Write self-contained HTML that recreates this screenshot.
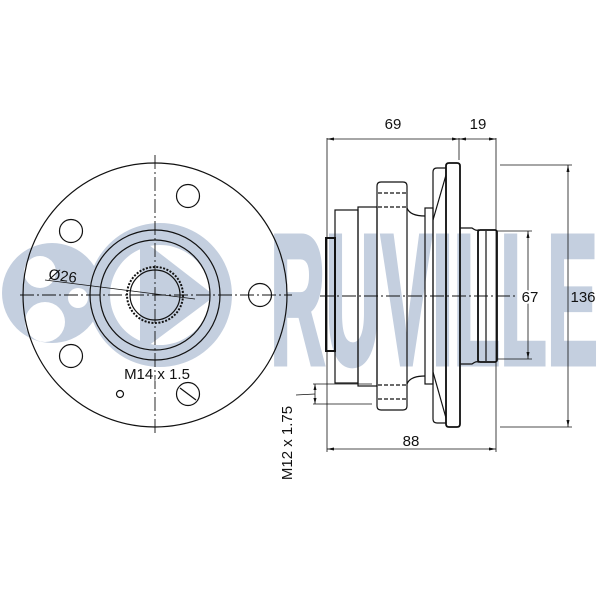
<!DOCTYPE html>
<html><head><meta charset="utf-8"><style>
html,body{margin:0;padding:0;background:#fff}
svg{display:block}
text{font-family:"Liberation Sans",sans-serif;fill:#111}
</style></head><body>
<svg width="600" height="600" viewBox="0 0 600 600" xmlns="http://www.w3.org/2000/svg">
<!-- watermark -->
<g fill="#c4cfdf">
  <circle cx="52" cy="293" r="50"/>
  <path d="M160 223 a72 72 0 1 1 -0.1 0 Z M160 245 a50 50 0 1 0 0.1 0 Z" fill-rule="evenodd"/>
  <polygon points="140,238 215,296 140,352"/>
  <text x="270" y="364" font-size="186" font-weight="bold" textLength="328" lengthAdjust="spacingAndGlyphs" style="fill:#c4cfdf;stroke:#c4cfdf;stroke-width:5">RUVILLE</text>
</g>
<g fill="#fff">
  <circle cx="40" cy="272" r="16"/>
  <circle cx="45" cy="322" r="20"/>
  <circle cx="78" cy="298" r="10"/>
</g>
<g fill="none" stroke="#111" stroke-width="1.2">
  <circle cx="155" cy="295" r="132"/>
  <circle cx="155" cy="295" r="65"/>
  <circle cx="155" cy="295" r="55"/>
  <circle cx="155" cy="295" r="28" stroke-dasharray="2 1.5" stroke-width="2"/>
  <circle cx="155" cy="295" r="25"/>
  <circle cx="188" cy="196" r="11.5"/>
  <circle cx="71" cy="231" r="11.5"/>
  <circle cx="260" cy="295" r="11.5"/>
  <circle cx="71" cy="356" r="11.5"/>
  <circle cx="188" cy="394" r="11.5"/>
  <line x1="180" y1="388" x2="196" y2="400"/>
  <circle cx="120" cy="394" r="3.5"/>
  <line x1="45" y1="280" x2="195" y2="299" stroke-width="0.8"/>
  <line x1="155" y1="155" x2="155" y2="436" stroke-dasharray="14 3 2 3" stroke-width="0.9"/>
  <line x1="20" y1="295" x2="292" y2="295" stroke-dasharray="14 3 2 3" stroke-width="0.9"/>
  <line x1="320" y1="296" x2="515" y2="296" stroke-dasharray="14 3 2 3" stroke-width="0.9"/>

  <rect x="326" y="238" width="9" height="113" stroke-width="2"/>
  <rect x="335" y="210" width="23" height="173"/>
  <rect x="358" y="207" width="19" height="179"/>
  <path d="M377 186 q0 -4 4 -4 h22 q4 0 4 4 v220 q0 4 -4 4 h-22 q-4 0 -4 -4 Z"/>
  <line x1="378" y1="193" x2="406" y2="193" stroke-dasharray="4 2"/>
  <line x1="378" y1="207" x2="406" y2="207" stroke-dasharray="4 2"/>
  <line x1="378" y1="385" x2="406" y2="385" stroke-dasharray="4 2"/>
  <line x1="378" y1="399" x2="406" y2="399" stroke-dasharray="4 2"/>
  <path d="M407 208 q3 8 18 8 M407 384 q3 -8 18 -8"/>
  <rect x="425" y="208" width="8" height="176"/>
  <path d="M433 172 q0 -4 4 -4 h9 v255 h-9 q-4 0 -4 -4 Z"/>
  <line x1="433" y1="220" x2="446" y2="175"/>
  <line x1="433" y1="372" x2="446" y2="418"/>
  <path d="M446 166 q0 -3 3 -3 h8 q3 0 3 3 v258 q0 3 -3 3 h-8 q-3 0 -3 -3 Z" stroke-width="1.8"/>
  <path d="M460 228 h12 q4 3 6 2 v132 q-2 -1 -6 2 h-12"/>
  <rect x="478" y="230" width="19" height="132" rx="2" stroke-width="1.8"/>
  <line x1="486" y1="231" x2="486" y2="361"/>
</g>
<g stroke="#111" stroke-width="0.8" fill="none">
  <line x1="327" y1="138" x2="327" y2="452"/>
  <line x1="496" y1="138" x2="496" y2="452"/>
  <line x1="459" y1="138" x2="459" y2="160"/>
  <line x1="327" y1="139" x2="496" y2="139"/>
  <line x1="327" y1="449" x2="496" y2="449"/>
  <line x1="500" y1="165" x2="572" y2="165"/>
  <line x1="500" y1="427" x2="572" y2="427"/>
  <line x1="568" y1="165" x2="568" y2="427"/>
  <line x1="497" y1="231" x2="532" y2="231"/>
  <line x1="497" y1="359" x2="532" y2="359"/>
  <line x1="528" y1="231" x2="528" y2="359"/>
  <line x1="313" y1="384" x2="372" y2="384"/>
  <line x1="313" y1="404" x2="372" y2="404"/>
  <line x1="315" y1="384" x2="315" y2="404"/>
  <line x1="296" y1="395" x2="315" y2="394"/>
</g>
<g fill="#111">
  <polygon points="327,139 334,137.5 334,140.5"/>
  <polygon points="459,139 452,137.5 452,140.5"/>
  <polygon points="459,139 466,137.5 466,140.5"/>
  <polygon points="496,139 489,137.5 489,140.5"/>
  <polygon points="327,449 334,447.5 334,450.5"/>
  <polygon points="496,449 489,447.5 489,450.5"/>
  <polygon points="568,165 566.5,172 569.5,172"/>
  <polygon points="568,427 566.5,420 569.5,420"/>
  <polygon points="528,231 526.5,238 529.5,238"/>
  <polygon points="528,359 526.5,352 529.5,352"/>
  <polygon points="315,384 313.5,390 316.5,390"/>
  <polygon points="315,404 313.5,398 316.5,398"/>
</g>
<g font-size="15">
  <text x="393" y="129" text-anchor="middle">69</text>
  <text x="478" y="129" text-anchor="middle">19</text>
  <text x="411" y="446" text-anchor="middle">88</text>
  <text x="530" y="302" text-anchor="middle" style="paint-order:stroke;stroke:#fff;stroke-width:4">67</text>
  <text x="583" y="302" text-anchor="middle">136</text>
  <text x="48" y="279" transform="rotate(8 48 279)">Ø26</text>
  <text x="157" y="379" text-anchor="middle" style="paint-order:stroke;stroke:#fff;stroke-width:3">M14 x 1.5</text>
  <text x="292" y="443" text-anchor="middle" transform="rotate(-90 292 443)">M12 x 1.75</text>
</g>
</svg>
</body></html>
